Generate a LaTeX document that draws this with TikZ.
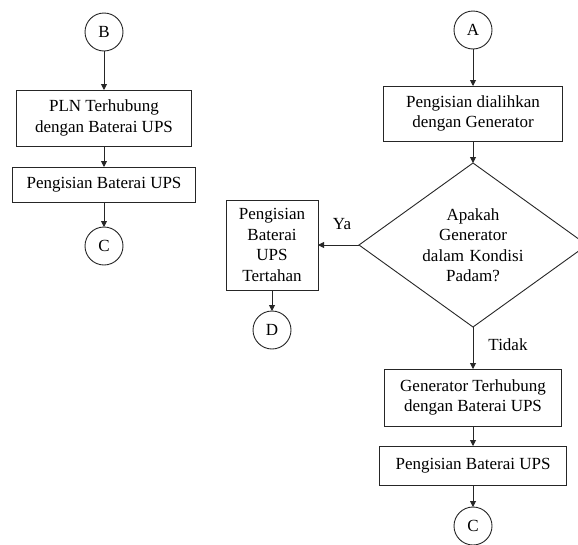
\documentclass[tikz,border=0pt]{standalone}
\usepackage{fontspec}
\setmainfont{Liberation Serif}
\usetikzlibrary{shapes.geometric,arrows.meta}
\begin{document}
\begin{tikzpicture}[x=1pt,y=-1pt,
  every node/.style={font=\fontsize{17}{20.5}\selectfont, outer sep=0pt},
  proc/.style={draw=black!85, line width=0.9pt, align=center, inner sep=0pt},
  conn/.style={draw=black!85, circle, line width=0.9pt, minimum size=38pt, inner sep=0pt},
  decide/.style={draw=black!85, diamond, line width=0.9pt, align=center, inner sep=0pt,
    text width=110pt, aspect=1.39, minimum width=228pt, minimum height=164pt},
  flow/.style={draw=black!85, line width=0.9pt, -{Triangle[length=6pt,width=6pt]}}]
\clip (0,0) rectangle (578,544);
\fill[white] (0,0) rectangle (578,544);
% left column
\node[conn] (B) at (104,32) {B};
\node[proc, minimum width=175pt, minimum height=56pt] (pln) at (104,118) {PLN Terhubung\\dengan Baterai UPS};
\node[proc, minimum width=183pt, minimum height=35pt] (isiL) at (104,184.5) {Pengisian Baterai UPS};
\node[conn] (CL) at (104,246) {C};
\draw[flow] (B) -- (pln);
\draw[flow] (pln) -- (isiL);
\draw[flow] (isiL) -- (CL);
% right column
\node[conn] (A) at (473,30) {A};
\node[proc, minimum width=179pt, minimum height=55pt] (alih) at (473,113.5) {Pengisian dialihkan\\dengan Generator};
\node[decide] (dia) at (473,245) {Apakah\\Generator\\dalam Kondisi\\Padam?};
\node[proc, minimum width=92pt, minimum height=90pt] (tahan) at (272,245) {Pengisian\\Baterai\\UPS\\Tertahan};
\node[conn] (D) at (272,330) {D};
\node[proc, minimum width=177pt, minimum height=57pt] (gen) at (473,397.5) {Generator Terhubung\\dengan Baterai UPS};
\node[proc, minimum width=187pt, minimum height=39pt] (isiR) at (473,465.5) {Pengisian Baterai UPS};
\node[conn] (CR) at (473,526) {C};
\node (ya) at (342,224) {Ya};
\node (tidak) at (508,345) {Tidak};
\draw[flow] (A) -- (alih);
\draw[flow] (alih) -- (dia.north);
\draw[flow] (dia.west) -- (tahan.east);
\draw[flow] (tahan) -- (D);
\draw[flow] (dia.south) -- (gen);
\draw[flow] (gen) -- (isiR);
\draw[flow] (isiR) -- (CR);
\end{tikzpicture}
\end{document}
